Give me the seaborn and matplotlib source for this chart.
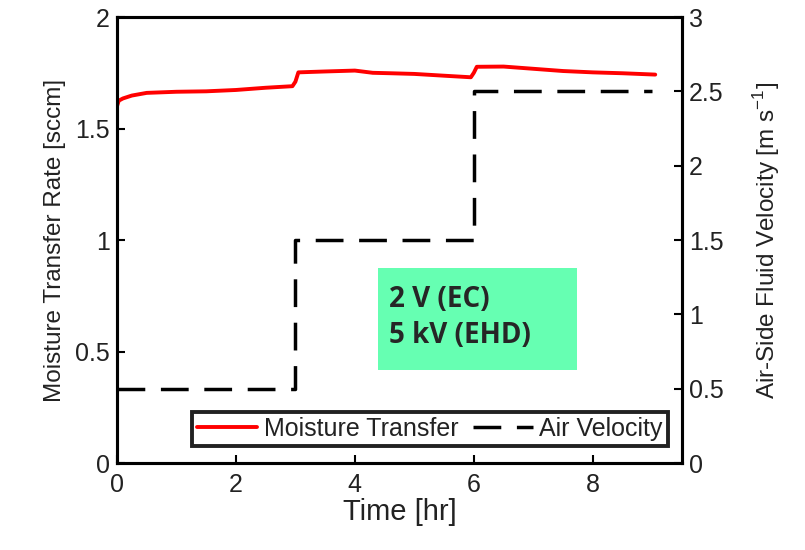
import matplotlib
matplotlib.use("Agg")
import matplotlib.pyplot as plt
import numpy as np
import pandas as pd
import seaborn as sns
from matplotlib.patches import Rectangle

# Moisture transfer rate [sccm]
moist_time = [0.0, 0.03, 0.1, 0.25, 0.5, 1.0, 1.5, 2.0, 2.5, 2.95, 3.0, 3.05,
              3.5, 4.0, 4.3, 4.6, 5.0, 5.5, 5.95, 6.0, 6.05, 6.5, 7.0, 7.5,
              8.0, 8.5, 9.05]
moist_rate = [1.60, 1.625, 1.635, 1.648, 1.660, 1.665, 1.667, 1.673, 1.683, 1.690,
              1.710, 1.752, 1.756, 1.760, 1.750, 1.748, 1.745, 1.737, 1.730, 1.750,
              1.777, 1.778, 1.768, 1.758, 1.752, 1.748, 1.742]

# Air velocity steps [m/s]
vel_time = [0, 3, 6, 9]
vel_value = [0.5, 1.5, 2.5, 2.5]

x_ticks = [0, 2, 4, 6, 8]
left_ticks = [0, 0.5, 1, 1.5, 2]
right_ticks = [0, 0.5, 1, 1.5, 2, 2.5, 3]

sns.set_style("white")
plt.rcParams['font.family'] = ['Liberation Sans', 'DejaVu Sans']
plt.rcParams['mathtext.fontset'] = 'custom'
plt.rcParams['mathtext.rm'] = 'Liberation Sans'

moist_df = pd.DataFrame({"time": moist_time, "rate": moist_rate})
vel_df = pd.DataFrame({"time": vel_time, "vel": vel_value})

fig = plt.figure(figsize=(8.05, 5.5), dpi=100)
ax1 = fig.add_axes([0.1453, 0.158, 0.7019, 0.811])
ax2 = ax1.twinx()

sns.lineplot(data=moist_df, x="time", y="rate", ax=ax1, color="red", lw=2.8,
             estimator=None, sort=False, label="Moisture Transfer", legend=False)
sns.lineplot(data=vel_df, x="time", y="vel", ax=ax2, color="black", lw=2.5,
             estimator=None, sort=False, drawstyle="steps-post",
             dashes=False, linestyle=(0, (8, 4.5)), label="Air Velocity", legend=False)

ax1.set_xlim(0, 9.5)
ax1.set_ylim(0, 2)
ax2.set_ylim(0, 3)
ax1.set_xticks(x_ticks)
ax1.set_yticks(left_ticks)
ax2.set_yticks(right_ticks)
ax1.set_xticklabels([str(t) for t in x_ticks])
ax1.set_yticklabels(["0", "0.5", "1", "1.5", "2"])
ax2.set_yticklabels(["0", "0.5", "1", "1.5", "2", "2.5", "3"])

for ax in (ax1, ax2):
    for sp in ax.spines.values():
        sp.set_visible(True)
        sp.set_color("black")
        sp.set_linewidth(2.2)
    ax.tick_params(direction="in", length=6, width=1.5, labelsize=18,
                   colors="black", labelcolor="#222222", pad=5)
ax1.tick_params(axis="y", left=True, right=False)
ax1.tick_params(axis="x", bottom=True, top=False, pad=7)
ax2.tick_params(axis="y", right=True, left=False)
ax1.grid(False)
ax2.grid(False)

ax1.set_xlabel("Time [hr]", fontsize=21, color="#222222", labelpad=1)
ax1.set_ylabel("Moisture Transfer Rate [sccm]", fontsize=17.5, color="#222222", labelpad=7)
ax2.set_ylabel("Air-Side Fluid Velocity [m s$^{-1}$]", fontsize=17.5, color="#222222", labelpad=20)

# condition box
ax2.add_patch(Rectangle((0.462, 0.2085), 0.352, 0.2285, transform=ax2.transAxes,
                        facecolor="#66FFB2", edgecolor="none", zorder=1))
ax2.text(0.482, 0.367, "2 V (EC)", transform=ax2.transAxes, fontsize=20,
         fontweight="bold", family="Open Sans", va="center", ha="left", zorder=2)
ax2.text(0.482, 0.285, "5 kV (EHD)", transform=ax2.transAxes, fontsize=20,
         fontweight="bold", family="Open Sans", va="center", ha="left", zorder=2)

h1, l1 = ax1.get_legend_handles_labels()
h2, l2 = ax2.get_legend_handles_labels()
leg = ax2.legend(h1 + h2, l1 + l2, loc="lower right", bbox_to_anchor=(0.975, 0.038),
                 ncol=2, fontsize=18, frameon=True, fancybox=False, framealpha=1,
                 edgecolor="#222222", handlelength=2.4, handletextpad=0.25,
                 columnspacing=0.6, borderpad=0.2, borderaxespad=0)
leg.get_frame().set_linewidth(2.8)
for t in leg.get_texts():
    t.set_color("#222222")

fig.savefig("out.png", dpi=100)
